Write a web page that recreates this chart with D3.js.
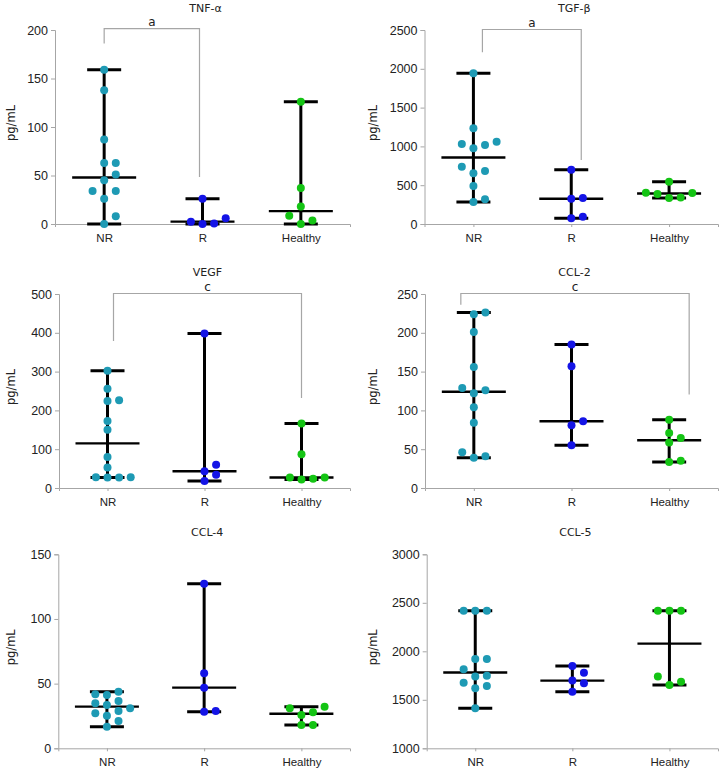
<!DOCTYPE html>
<html>
<head>
<meta charset="utf-8">
<script src="https://cdn.jsdelivr.net/npm/d3@7"></script>
<style>
  body { margin: 0; background: #fff; }
  svg { display: block; font-family: "DejaVu Sans", Verdana, sans-serif; }
</style>
</head>
<body>
<div id="chart"></div>
<script>
const groups = ["NR", "R", "Healthy"];

// values, pg/mL
const tnfNR = [159, 138, 87, 63, 63, 51, 45, 34, 34, 26, 8, 0];
const tnfR = [26, 2.4, 0, 0.5, 6];
const tnfHealthy = [126, 37, 18, 8.5, 0, 3.5];

const tgfNR = [1942, 1233, 1061, 1018, 975, 1031, 739, 683, 653, 490, 318, 283];
const tgfR = [700, 335, 325, 73, 95];
const tgfHealthy = [546, 404, 385, 340, 335, 400];

const vegfNR = [302, 256, 226, 224, 173, 150, 80, 53, 28, 27, 27, 28];
const vegfR = [398, 60, 43, 34, 18];
const vegfHealthy = [166, 87, 27, 22, 24, 27];

const ccl2NR = [226, 224, 201, 156, 129, 126, 122, 104, 84, 46, 41, 39];
const ccl2R = [185, 157, 86, 81, 55];
const ccl2Healthy = [88, 71, 64.5, 58.5, 35, 33.6];

const ccl4NR = [43.8, 41.8, 41.2, 36.6, 34.8, 33.5, 30.9, 28.8, 27.1, 25.2, 21.1, 16.7];
const ccl4R = [127.3, 58, 46.9, 28.8, 28.3];
const ccl4Healthy = [32.2, 30.9, 27.8, 25.7, 18, 18];

const ccl5NR = [2419, 2419, 2419, 1921, 1921, 1814, 1749, 1739, 1677, 1643, 1619, 1412];
const ccl5R = [1849, 1780, 1698, 1670, 1584];
const ccl5Healthy = [2419, 2419, 2419, 1739, 1687, 1653];

const tnfTicks = [0, 50, 100, 150, 200];
const tgfTicks = [0, 500, 1000, 1500, 2000, 2500];
const vegfTicks = [0, 100, 200, 300, 400, 500];
const ccl2Ticks = [0, 50, 100, 150, 200, 250];
const ccl4Ticks = [0, 50, 100, 150];
const ccl5Ticks = [1000, 1500, 2000, 2500, 3000];

const colors = {NR: "#1e9ab4", R: "#1414e6", Healthy: "#14c414"};

const W = 721, H = 771;
const plotH = 194;

// panel layout: axis x, x-axis end, plot top
const panels = [
  {title: "TNF-α", series: [tnfNR, tnfR, tnfHealthy], ticks: tnfTicks, x0: 55, x1: 350, top: 30,
    bracket: {from: "NR", to: "R", dxTo: -3, top: 201, left: 186, right: 48.5, label: "a"}},
  {title: "TGF-β", series: [tgfNR, tgfR, tgfHealthy], ticks: tgfTicks, x0: 424.5, x1: 718, top: 30,
    bracket: {from: "NR", to: "R", dxFrom: 9, dxTo: 10, top: 2470, left: 2213, right: 825, label: "a"}},
  {title: "VEGF", series: [vegfNR, vegfR, vegfHealthy], ticks: vegfTicks, x0: 59, x1: 350, top: 294,
    bracket: {from: "NR", to: "Healthy", dxFrom: 6, top: 500, left: 379, right: 232, label: "c"}},
  {title: "CCL-2", series: [ccl2NR, ccl2R, ccl2Healthy], ticks: ccl2Ticks, x0: 425, x1: 718, top: 294,
    bracket: {from: "NR", to: "Healthy", dxFrom: -13, dxTo: 20, top: 250, left: 236, right: 120.5, label: "c"}},
  {title: "CCL-4", series: [ccl4NR, ccl4R, ccl4Healthy], ticks: ccl4Ticks, x0: 58.3, x1: 350, top: 554.3},
  {title: "CCL-5", series: [ccl5NR, ccl5R, ccl5Healthy], ticks: ccl5Ticks, x0: 426.7, x1: 718, top: 554.3},
];

const svg = d3.select("#chart").append("svg")
  .attr("width", W)
  .attr("height", H);

const dotR = 4;
const slot = 11.6;     // horizontal step between dots in a row
const clash = 8.6;     // vertical distance under which dots in one slot overlap

// simple slot beeswarm: lowest values first, try 0, +1, -1, +2, -2 ...
function swarm(values, y) {
  const placed = [];
  const order = values.map((v, i) => i).sort((a, b) => values[a] - values[b]);
  const out = new Array(values.length);
  order.forEach(i => {
    const py = y(values[i]);
    for (let k = 0; k < 20; k++) {
      const s = k === 0 ? 0 : (k % 2 ? (k + 1) / 2 : -k / 2);
      const hit = placed.some(p => p.s === s && Math.abs(p.y - py) < clash);
      if (!hit) {
        placed.push({s, y: py});
        out[i] = s;
        break;
      }
    }
  });
  return out;
}

panels.forEach(p => {
  const g = svg.append("g");
  const bottom = p.top + plotH;

  const x = d3.scalePoint()
    .domain(groups)
    .range([p.x0, p.x1])
    .padding(0.5);

  const y = d3.scaleLinear()
    .domain(d3.extent(p.ticks))
    .range([bottom, p.top]);

  // y axis
  const ya = g.append("g")
    .attr("transform", `translate(${p.x0},0)`)
    .call(d3.axisLeft(y).tickValues(p.ticks).tickFormat(d3.format("d"))
      .tickSizeOuter(0).tickSize(4).tickPadding(3));
  ya.select(".domain").attr("stroke", "#a6a6a6");
  ya.selectAll(".tick line").attr("stroke", "#a6a6a6");
  ya.selectAll(".tick text").attr("fill", "#222").style("font-size", "12.5px");

  // x axis
  const xa = g.append("g")
    .attr("transform", `translate(0,${bottom})`)
    .call(d3.axisBottom(x).tickSizeOuter(0).tickSize(3).tickPadding(7));
  xa.select(".domain").attr("stroke", "#a6a6a6");
  xa.selectAll(".tick line").attr("stroke", "#a6a6a6");
  xa.selectAll(".tick text").attr("fill", "#222").style("font-size", "11.5px");

  // title
  g.append("text")
    .attr("x", (p.x0 + p.x1) / 2 + 3)
    .attr("y", p.top - 18)
    .attr("text-anchor", "middle")
    .attr("fill", "#222")
    .style("font-size", "11px")
    .text(p.title);

  // y label
  g.append("text")
    .attr("transform", `translate(${p.x0 < 200 ? 15 : 377},${p.top + plotH / 2 - 4}) rotate(-90)`)
    .attr("text-anchor", "middle")
    .attr("fill", "#222")
    .style("font-size", "11.5px")
    .text("pg/mL");

  // significance bracket
  if (p.bracket) {
    const b = p.bracket;
    const bx0 = x(b.from) + (b.dxFrom || 0);
    const bx1 = x(b.to) + (b.dxTo || 0);
    const by = Math.min(y(b.top), p.top) - 0.5;
    g.append("path")
      .attr("d", `M${bx0},${y(b.left)}V${by}H${bx1}V${y(b.right)}`)
      .attr("fill", "none")
      .attr("stroke", "#a6a6a6")
      .attr("stroke-width", 1.2);
    g.append("text")
      .attr("x", (bx0 + bx1) / 2)
      .attr("y", by - 3)
      .attr("text-anchor", "middle")
      .attr("fill", "#222")
      .style("font-size", "12px")
      .text(b.label);
  }

  p.series.forEach((vals, gi) => {
    const name = groups[gi];
    const cx = x(name);
    const [lo, hi] = d3.extent(vals);
    const med = d3.median(vals);

    // range whisker + caps + median
    g.append("line")
      .attr("x1", cx).attr("x2", cx)
      .attr("y1", y(lo)).attr("y2", y(hi))
      .attr("stroke", "#000").attr("stroke-width", 3);
    [lo, hi].forEach(v => {
      g.append("line")
        .attr("x1", cx - 17).attr("x2", cx + 17)
        .attr("y1", y(v)).attr("y2", y(v))
        .attr("stroke", "#000").attr("stroke-width", 3);
    });
    g.append("line")
      .attr("x1", cx - 32).attr("x2", cx + 32)
      .attr("y1", y(med)).attr("y2", y(med))
      .attr("stroke", "#000").attr("stroke-width", 2.4);

    const offs = swarm(vals, y);
    g.selectAll(null)
      .data(vals)
      .enter().append("circle")
        .attr("cx", (d, i) => cx + offs[i] * slot)
        .attr("cy", d => y(d))
        .attr("r", dotR)
        .attr("fill", colors[name]);
  });
});
</script>
</body>
</html>
